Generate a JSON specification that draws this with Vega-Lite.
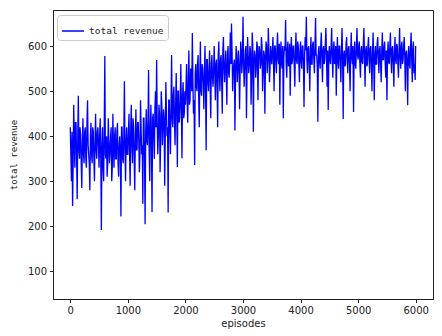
{
  "$schema": "https://vega.github.io/schema/vega-lite/v6.json",
  "width": 380,
  "height": 289,
  "autosize": "none",
  "padding": {"left": 53, "top": 10, "right": 9, "bottom": 37},
  "background": "white",
  "config": {
    "view": {"stroke": "#222", "strokeWidth": 1},
    "axis": {"grid": false, "domainColor": "#222", "tickColor": "#222", "tickSize": 3.5, "labelColor": "#222", "labelFont": "DejaVu Sans", "labelFontSize": 10, "titleColor": "#222", "titleFontWeight": "normal"}
  },
  "data": {"values": [
    {"e":0,"r":420},{"e":10,"r":360},{"e":20,"r":300},{"e":30,"r":410},{"e":40,"r":245},{"e":50,"r":340},{"e":60,"r":470},{"e":70,"r":390},{"e":80,"r":330},{"e":90,"r":430},{"e":100,"r":430},{"e":110,"r":350},{"e":120,"r":260},{"e":130,"r":400},{"e":140,"r":490},{"e":150,"r":370},{"e":160,"r":350},{"e":170,"r":420},{"e":180,"r":400},{"e":190,"r":340},{"e":200,"r":285},{"e":210,"r":390},{"e":220,"r":440},{"e":230,"r":360},{"e":240,"r":340},{"e":250,"r":410},{"e":260,"r":420},{"e":270,"r":350},{"e":280,"r":330},{"e":290,"r":430},{"e":300,"r":480},{"e":310,"r":380},{"e":320,"r":360},{"e":330,"r":340},{"e":340,"r":280},{"e":350,"r":400},{"e":360,"r":430},{"e":370,"r":360},{"e":380,"r":340},{"e":390,"r":420},{"e":400,"r":410},{"e":410,"r":350},{"e":420,"r":300},{"e":430,"r":390},{"e":440,"r":450},{"e":450,"r":370},{"e":460,"r":350},{"e":470,"r":410},{"e":480,"r":420},{"e":490,"r":380},
    {"e":500,"r":330},{"e":510,"r":400},{"e":520,"r":440},{"e":530,"r":350},{"e":540,"r":192},{"e":550,"r":380},{"e":560,"r":420},{"e":570,"r":330},{"e":580,"r":300},{"e":590,"r":420},{"e":600,"r":578},{"e":610,"r":360},{"e":620,"r":350},{"e":630,"r":400},{"e":640,"r":310},{"e":650,"r":340},{"e":660,"r":440},{"e":670,"r":390},{"e":680,"r":340},{"e":690,"r":360},{"e":700,"r":400},{"e":710,"r":420},{"e":720,"r":300},{"e":730,"r":330},{"e":740,"r":450},{"e":750,"r":380},{"e":760,"r":330},{"e":770,"r":400},{"e":780,"r":420},{"e":790,"r":350},{"e":800,"r":350},{"e":810,"r":410},{"e":820,"r":430},{"e":830,"r":340},{"e":840,"r":310},{"e":850,"r":380},{"e":860,"r":400},{"e":870,"r":360},{"e":880,"r":222},{"e":890,"r":420},{"e":900,"r":420},{"e":910,"r":350},{"e":920,"r":340},{"e":930,"r":400},{"e":940,"r":522},{"e":950,"r":370},{"e":960,"r":300},{"e":970,"r":390},{"e":980,"r":420},{"e":990,"r":360},
    {"e":1000,"r":360},{"e":1010,"r":410},{"e":1020,"r":450},{"e":1030,"r":360},{"e":1040,"r":290},{"e":1050,"r":420},{"e":1060,"r":470},{"e":1070,"r":380},{"e":1080,"r":340},{"e":1090,"r":440},{"e":1100,"r":420},{"e":1110,"r":350},{"e":1120,"r":280},{"e":1130,"r":400},{"e":1140,"r":460},{"e":1150,"r":370},{"e":1160,"r":370},{"e":1170,"r":430},{"e":1180,"r":430},{"e":1190,"r":390},{"e":1200,"r":320},{"e":1210,"r":360},{"e":1220,"r":480},{"e":1230,"r":420},{"e":1240,"r":360},{"e":1250,"r":380},{"e":1260,"r":250},{"e":1270,"r":440},{"e":1280,"r":440},{"e":1290,"r":350},{"e":1300,"r":205},{"e":1310,"r":410},{"e":1320,"r":460},{"e":1330,"r":390},{"e":1340,"r":380},{"e":1350,"r":430},{"e":1360,"r":547},{"e":1370,"r":370},{"e":1380,"r":300},{"e":1390,"r":420},{"e":1400,"r":470},{"e":1410,"r":380},{"e":1420,"r":232},{"e":1430,"r":440},{"e":1440,"r":450},{"e":1450,"r":400},{"e":1460,"r":350},{"e":1470,"r":460},{"e":1480,"r":500},{"e":1490,"r":420},
    {"e":1500,"r":569},{"e":1510,"r":430},{"e":1520,"r":360},{"e":1530,"r":400},{"e":1540,"r":470},{"e":1550,"r":450},{"e":1560,"r":320},{"e":1570,"r":390},{"e":1580,"r":500},{"e":1590,"r":470},{"e":1600,"r":380},{"e":1610,"r":420},{"e":1620,"r":460},{"e":1630,"r":440},{"e":1640,"r":290},{"e":1650,"r":400},{"e":1660,"r":520},{"e":1670,"r":460},{"e":1680,"r":400},{"e":1690,"r":420},{"e":1700,"r":231},{"e":1710,"r":480},{"e":1720,"r":480},{"e":1730,"r":410},{"e":1740,"r":360},{"e":1750,"r":470},{"e":1760,"r":580},{"e":1770,"r":440},{"e":1780,"r":420},{"e":1790,"r":490},{"e":1800,"r":510},{"e":1810,"r":430},{"e":1820,"r":380},{"e":1830,"r":470},{"e":1840,"r":540},{"e":1850,"r":450},{"e":1860,"r":332},{"e":1870,"r":500},{"e":1880,"r":500},{"e":1890,"r":430},{"e":1900,"r":440},{"e":1910,"r":480},{"e":1920,"r":560},{"e":1930,"r":460},{"e":1940,"r":351},{"e":1950,"r":490},{"e":1960,"r":520},{"e":1970,"r":440},{"e":1980,"r":450},{"e":1990,"r":500},
    {"e":2000,"r":470},{"e":2010,"r":510},{"e":2020,"r":560},{"e":2030,"r":480},{"e":2040,"r":430},{"e":2050,"r":530},{"e":2060,"r":590},{"e":2070,"r":470},{"e":2080,"r":480},{"e":2090,"r":550},{"e":2100,"r":540},{"e":2110,"r":500},{"e":2120,"r":629},{"e":2130,"r":520},{"e":2140,"r":450},{"e":2150,"r":480},{"e":2160,"r":336},{"e":2170,"r":540},{"e":2180,"r":560},{"e":2190,"r":510},{"e":2200,"r":500},{"e":2210,"r":560},{"e":2220,"r":580},{"e":2230,"r":490},{"e":2240,"r":420},{"e":2250,"r":530},{"e":2260,"r":610},{"e":2270,"r":500},{"e":2280,"r":490},{"e":2290,"r":560},{"e":2300,"r":550},{"e":2310,"r":520},{"e":2320,"r":460},{"e":2330,"r":540},{"e":2340,"r":600},{"e":2350,"r":500},{"e":2360,"r":369},{"e":2370,"r":570},{"e":2380,"r":570},{"e":2390,"r":520},{"e":2400,"r":500},{"e":2410,"r":550},{"e":2420,"r":590},{"e":2430,"r":510},{"e":2440,"r":440},{"e":2450,"r":560},{"e":2460,"r":580},{"e":2470,"r":530},{"e":2480,"r":510},{"e":2490,"r":550},
    {"e":2500,"r":600},{"e":2510,"r":540},{"e":2520,"r":480},{"e":2530,"r":560},{"e":2540,"r":570},{"e":2550,"r":510},{"e":2560,"r":420},{"e":2570,"r":580},{"e":2580,"r":610},{"e":2590,"r":530},{"e":2600,"r":500},{"e":2610,"r":570},{"e":2620,"r":580},{"e":2630,"r":520},{"e":2640,"r":450},{"e":2650,"r":590},{"e":2660,"r":620},{"e":2670,"r":550},{"e":2680,"r":520},{"e":2690,"r":560},{"e":2700,"r":590},{"e":2710,"r":530},{"e":2720,"r":470},{"e":2730,"r":580},{"e":2740,"r":600},{"e":2750,"r":540},{"e":2760,"r":530},{"e":2770,"r":570},{"e":2780,"r":630},{"e":2790,"r":560},{"e":2800,"r":650},{"e":2810,"r":590},{"e":2820,"r":500},{"e":2830,"r":540},{"e":2840,"r":560},{"e":2850,"r":570},{"e":2860,"r":413},{"e":2870,"r":530},{"e":2880,"r":600},{"e":2890,"r":580},{"e":2900,"r":520},{"e":2910,"r":550},{"e":2920,"r":590},{"e":2930,"r":560},{"e":2940,"r":460},{"e":2950,"r":540},{"e":2960,"r":610},{"e":2970,"r":590},{"e":2980,"r":540},{"e":2990,"r":570},
    {"e":3000,"r":665},{"e":3010,"r":570},{"e":3020,"r":510},{"e":3030,"r":550},{"e":3040,"r":590},{"e":3050,"r":600},{"e":3060,"r":440},{"e":3070,"r":540},{"e":3080,"r":620},{"e":3090,"r":580},{"e":3100,"r":540},{"e":3110,"r":560},{"e":3120,"r":600},{"e":3130,"r":590},{"e":3140,"r":470},{"e":3150,"r":530},{"e":3160,"r":630},{"e":3170,"r":600},{"e":3180,"r":410},{"e":3190,"r":560},{"e":3200,"r":590},{"e":3210,"r":580},{"e":3220,"r":530},{"e":3230,"r":550},{"e":3240,"r":610},{"e":3250,"r":600},{"e":3260,"r":480},{"e":3270,"r":570},{"e":3280,"r":600},{"e":3290,"r":590},{"e":3300,"r":550},{"e":3310,"r":560},{"e":3320,"r":620},{"e":3330,"r":600},{"e":3340,"r":500},{"e":3350,"r":540},{"e":3360,"r":590},{"e":3370,"r":580},{"e":3380,"r":450},{"e":3390,"r":560},{"e":3400,"r":610},{"e":3410,"r":600},{"e":3420,"r":540},{"e":3430,"r":570},{"e":3440,"r":640},{"e":3450,"r":590},{"e":3460,"r":520},{"e":3470,"r":550},{"e":3480,"r":600},{"e":3490,"r":580},
    {"e":3500,"r":560},{"e":3510,"r":590},{"e":3520,"r":620},{"e":3530,"r":560},{"e":3540,"r":500},{"e":3550,"r":600},{"e":3560,"r":600},{"e":3570,"r":565},{"e":3580,"r":540},{"e":3590,"r":595},{"e":3600,"r":630},{"e":3610,"r":570},{"e":3620,"r":560},{"e":3630,"r":605},{"e":3640,"r":470},{"e":3650,"r":580},{"e":3660,"r":610},{"e":3670,"r":560},{"e":3680,"r":550},{"e":3690,"r":600},{"e":3700,"r":440},{"e":3710,"r":575},{"e":3720,"r":600},{"e":3730,"r":590},{"e":3740,"r":658},{"e":3750,"r":560},{"e":3760,"r":530},{"e":3770,"r":595},{"e":3780,"r":610},{"e":3790,"r":555},{"e":3800,"r":560},{"e":3810,"r":605},{"e":3820,"r":490},{"e":3830,"r":580},{"e":3840,"r":620},{"e":3850,"r":560},{"e":3860,"r":570},{"e":3870,"r":600},{"e":3880,"r":600},{"e":3890,"r":555},{"e":3900,"r":510},{"e":3910,"r":590},{"e":3920,"r":630},{"e":3930,"r":570},{"e":3940,"r":560},{"e":3950,"r":610},{"e":3960,"r":600},{"e":3970,"r":560},{"e":3980,"r":520},{"e":3990,"r":590},
    {"e":4000,"r":610},{"e":4010,"r":565},{"e":4020,"r":550},{"e":4030,"r":600},{"e":4040,"r":600},{"e":4050,"r":560},{"e":4060,"r":465},{"e":4070,"r":580},{"e":4080,"r":620},{"e":4090,"r":590},{"e":4100,"r":665},{"e":4110,"r":570},{"e":4120,"r":540},{"e":4130,"r":595},{"e":4140,"r":600},{"e":4150,"r":560},{"e":4160,"r":500},{"e":4170,"r":585},{"e":4180,"r":620},{"e":4190,"r":560},{"e":4200,"r":560},{"e":4210,"r":605},{"e":4220,"r":610},{"e":4230,"r":570},{"e":4240,"r":540},{"e":4250,"r":600},{"e":4260,"r":662},{"e":4270,"r":580},{"e":4280,"r":580},{"e":4290,"r":555},{"e":4300,"r":432},{"e":4310,"r":590},{"e":4320,"r":600},{"e":4330,"r":565},{"e":4340,"r":550},{"e":4350,"r":600},{"e":4360,"r":630},{"e":4370,"r":575},{"e":4380,"r":520},{"e":4390,"r":590},{"e":4400,"r":600},{"e":4410,"r":560},{"e":4420,"r":570},{"e":4430,"r":605},{"e":4440,"r":640},{"e":4450,"r":580},{"e":4460,"r":510},{"e":4470,"r":590},{"e":4480,"r":458},{"e":4490,"r":570},
    {"e":4500,"r":600},{"e":4510,"r":570},{"e":4520,"r":560},{"e":4530,"r":600},{"e":4540,"r":640},{"e":4550,"r":575},{"e":4560,"r":530},{"e":4570,"r":595},{"e":4580,"r":610},{"e":4590,"r":560},{"e":4600,"r":570},{"e":4610,"r":600},{"e":4620,"r":490},{"e":4630,"r":580},{"e":4640,"r":620},{"e":4650,"r":565},{"e":4660,"r":550},{"e":4670,"r":600},{"e":4680,"r":600},{"e":4690,"r":560},{"e":4700,"r":520},{"e":4710,"r":590},{"e":4720,"r":640},{"e":4730,"r":575},{"e":4740,"r":438},{"e":4750,"r":580},{"e":4760,"r":590},{"e":4770,"r":555},{"e":4780,"r":560},{"e":4790,"r":605},{"e":4800,"r":620},{"e":4810,"r":570},{"e":4820,"r":540},{"e":4830,"r":595},{"e":4840,"r":600},{"e":4850,"r":560},{"e":4860,"r":500},{"e":4870,"r":585},{"e":4880,"r":630},{"e":4890,"r":575},{"e":4900,"r":560},{"e":4910,"r":600},{"e":4920,"r":454},{"e":4930,"r":575},{"e":4940,"r":610},{"e":4950,"r":560},{"e":4960,"r":550},{"e":4970,"r":600},{"e":4980,"r":640},{"e":4990,"r":580},
    {"e":5000,"r":570},{"e":5010,"r":600},{"e":5020,"r":610},{"e":5030,"r":560},{"e":5040,"r":530},{"e":5050,"r":590},{"e":5060,"r":600},{"e":5070,"r":565},{"e":5080,"r":560},{"e":5090,"r":605},{"e":5100,"r":640},{"e":5110,"r":575},{"e":5120,"r":510},{"e":5130,"r":590},{"e":5140,"r":600},{"e":5150,"r":555},{"e":5160,"r":560},{"e":5170,"r":600},{"e":5180,"r":620},{"e":5190,"r":570},{"e":5200,"r":540},{"e":5210,"r":595},{"e":5220,"r":600},{"e":5230,"r":560},{"e":5240,"r":500},{"e":5250,"r":585},{"e":5260,"r":630},{"e":5270,"r":570},{"e":5280,"r":480},{"e":5290,"r":580},{"e":5300,"r":600},{"e":5310,"r":560},{"e":5320,"r":560},{"e":5330,"r":605},{"e":5340,"r":620},{"e":5350,"r":575},{"e":5360,"r":540},{"e":5370,"r":590},{"e":5380,"r":600},{"e":5390,"r":560},{"e":5400,"r":520},{"e":5410,"r":590},{"e":5420,"r":630},{"e":5430,"r":570},{"e":5440,"r":570},{"e":5450,"r":600},{"e":5460,"r":610},{"e":5470,"r":560},{"e":5480,"r":530},{"e":5490,"r":590},
    {"e":5500,"r":480},{"e":5510,"r":580},{"e":5520,"r":610},{"e":5530,"r":565},{"e":5540,"r":560},{"e":5550,"r":600},{"e":5560,"r":630},{"e":5570,"r":575},{"e":5580,"r":540},{"e":5590,"r":595},{"e":5600,"r":600},{"e":5610,"r":560},{"e":5620,"r":510},{"e":5630,"r":585},{"e":5640,"r":620},{"e":5650,"r":570},{"e":5660,"r":560},{"e":5670,"r":605},{"e":5680,"r":600},{"e":5690,"r":560},{"e":5700,"r":530},{"e":5710,"r":590},{"e":5720,"r":640},{"e":5730,"r":575},{"e":5740,"r":550},{"e":5750,"r":600},{"e":5760,"r":610},{"e":5770,"r":560},{"e":5780,"r":570},{"e":5790,"r":600},{"e":5800,"r":620},{"e":5810,"r":575},{"e":5820,"r":500},{"e":5830,"r":585},{"e":5840,"r":590},{"e":5850,"r":560},{"e":5860,"r":469},{"e":5870,"r":580},{"e":5880,"r":600},{"e":5890,"r":560},{"e":5900,"r":550},{"e":5910,"r":600},{"e":5920,"r":630},{"e":5930,"r":570},{"e":5940,"r":520},{"e":5950,"r":595},{"e":5960,"r":610},{"e":5970,"r":540},{"e":5980,"r":560},{"e":5990,"r":525},{"e":5999,"r":600}
  ]},
  "mark": {"type": "line", "strokeWidth": 1.3, "interpolate": "linear"},
  "encoding": {
    "x": {"field": "e", "type": "quantitative", "scale": {"domain": [-300, 6300], "nice": false, "zero": false},
      "axis": {"values": [0, 1000, 2000, 3000, 4000, 5000, 6000], "format": "d", "title": "episodes", "titleFont": "DejaVu Sans", "titleFontSize": 10, "titlePadding": 3, "labelPadding": 3}},
    "y": {"field": "r", "type": "quantitative", "scale": {"domain": [39, 680], "nice": false, "zero": false},
      "axis": {"values": [100, 200, 300, 400, 500, 600], "format": "d", "title": "total revenue", "titleFont": "DejaVu Sans Mono", "titleFontSize": 9, "titlePadding": 9, "labelPadding": 3}},
    "color": {"datum": "total revenue", "type": "nominal", "scale": {"range": ["#0000ff"]},
      "legend": {"title": null, "orient": "none", "legendX": 4, "legendY": 5, "symbolType": "stroke", "symbolSize": 484, "symbolStrokeWidth": 1.5, "labelFont": "DejaVu Sans Mono", "labelFontSize": 9.5, "labelColor": "#222", "strokeColor": "#cccccc", "fillColor": "white", "cornerRadius": 3, "padding": 4, "labelOffset": 4}}
  }
}
